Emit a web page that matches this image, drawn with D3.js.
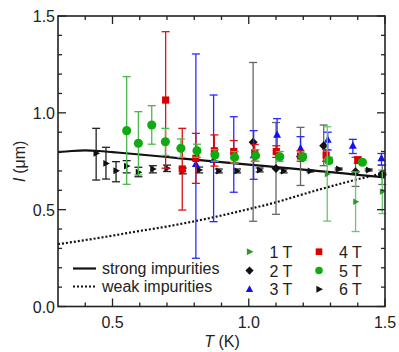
<!DOCTYPE html>
<html>
<head>
<meta charset="utf-8">
<script src="https://cdn.jsdelivr.net/npm/d3@7"></script>
<style>
  body { margin: 0; background: #fff; }
  svg { font-family: "Liberation Sans", Arial, sans-serif; }
</style>
</head>
<body>
<script>
// rows: [T, l, bar low, bar high]
var s1T = [[1.288, 0.684, 0.441, 0.928], [1.392, 0.541, 0.387, 0.695], [1.49, 0.593, 0.48, 0.705]]
var s2T = [[1.016, 0.848, 0.44, 1.26], [1.10, 0.713, 0.476, 0.95], [1.19, 0.775, 0.625, 0.925],
  [1.275, 0.83, 0.727, 0.937], [1.392, 0.696, 0.62, 0.77], [1.49, 0.68, 0.63, 0.73]]
var s3T = [[0.806, 0.735, 0.249, 1.304], [0.871, 0.757, 0.438, 1.092], [0.945, 0.78, 0.59, 0.98],
  [1.018, 0.78, 0.657, 0.908], [1.104, 0.886, 0.80, 0.97], [1.19, 0.817, 0.773, 0.877],
  [1.29, 0.86, 0.808, 0.90], [1.382, 0.83, 0.79, 0.863], [1.487, 0.765, 0.73, 0.79]]
var s4T = [[0.695, 1.066, 0.714, 1.419], [0.756, 0.71, 0.498, 0.92], [0.806, 0.765, 0.636, 0.894],
  [0.874, 0.804, 0.725, 0.886], [0.945, 0.80, 0.743, 0.857], [1.022, 0.794, 0.75, 0.837],
  [1.101, 0.80, 0.77, 0.83], [1.19, 0.777, 0.75, 0.804], [1.284, 0.782, 0.75, 0.81],
  [1.40, 0.756, 0.74, 0.773]]
var s5T = [[0.552, 0.908, 0.631, 1.187], [0.595, 0.843, 0.679, 1.006], [0.644, 0.937, 0.838, 1.037],
  [0.694, 0.851, 0.78, 0.92], [0.751, 0.817, 0.77, 0.865], [0.81, 0.804, 0.77, 0.838],
  [0.876, 0.782, 0.75, 0.81], [0.948, 0.77, 0.74, 0.80], [1.025, 0.779, 0.75, 0.81],
  [1.114, 0.773, 0.75, 0.80], [1.198, 0.773, 0.755, 0.79], [1.294, 0.753, 0.74, 0.77],
  [1.417, 0.745, 0.735, 0.755]]
var s6T = [[0.44, 0.791, 0.653, 0.92], [0.476, 0.739, 0.658, 0.822], [0.513, 0.701, 0.644, 0.748],
  [0.552, 0.725, 0.69, 0.753], [0.595, 0.693, 0.67, 0.719], [0.648, 0.71, 0.69, 0.727],
  [0.70, 0.714, 0.697, 0.73], [0.758, 0.70, 0.685, 0.715], [0.818, 0.705, 0.69, 0.72],
  [0.89, 0.70, 0.69, 0.71], [0.957, 0.70, 0.69, 0.71], [1.04, 0.705, 0.695, 0.715],
  [1.128, 0.70, 0.69, 0.71], [1.226, 0.70, 0.695, 0.705], [1.33, 0.71, 0.705, 0.715],
  [1.44, 0.705, 0.70, 0.71], [1.49, 0.685, 0.68, 0.69]]

var curveT = [0.3, 0.35, 0.4, 0.45, 0.5, 0.6, 0.7, 0.8, 0.9, 1.0, 1.1, 1.2, 1.3, 1.4, 1.5]
var strongL = [0.797, 0.803, 0.806, 0.803, 0.797, 0.785, 0.772, 0.758, 0.745, 0.733, 0.72, 0.707, 0.694, 0.68, 0.667]
var weakL = [0.322, 0.332, 0.343, 0.354, 0.366, 0.39, 0.413, 0.44, 0.47, 0.503, 0.538, 0.58, 0.62, 0.657, 0.69]

var xTicks = [0.5, 1.0, 1.5]
var yTicks = [0.0, 0.5, 1.0, 1.5]

function main() {
  var width = 399, height = 352
  var pl = 58, pr = 385, pt = 16, pb = 306.5

  var svg = d3.select("body").append("svg")
    .attr("width", width).attr("height", height)

  var x = d3.scaleLinear().domain([0.3, 1.5]).range([pl, pr])
  var y = d3.scaleLinear().domain([0, 1.5]).range([pb, pt])

  // marker shapes, centered on 0,0
  function shape(kind, r) {
    if (kind == "square") return "M" + (-r) + "," + (-r) + "h" + 2 * r + "v" + 2 * r + "h" + (-2 * r) + "Z"
    if (kind == "diamond") return "M0," + (-r * 1.25) + "L" + r * 1.25 + ",0L0," + r * 1.25 + "L" + (-r * 1.25) + ",0Z"
    if (kind == "up") return "M0," + (-r * 1.2) + "L" + r * 1.1 + "," + r * 0.8 + "L" + (-r * 1.1) + "," + r * 0.8 + "Z"
    if (kind == "right") return "M" + (-r * 0.8) + "," + (-r * 1.05) + "L" + r * 1.2 + ",0L" + (-r * 0.8) + "," + r * 1.05 + "Z"
    return d3.symbol().type(d3.symbolCircle).size(Math.PI * r * r * 1.3)()
  }

  var plot = svg.append("g")

  // ticks on all four sides, pointing inward
  var minorX = d3.range(4, 16).map(function(d) { return d / 10 })
  var minorY = d3.range(0, 16).map(function(d) { return d / 10 })
  var axes = svg.append("g").attr("stroke", "#222").attr("stroke-width", 1.3)
  minorX.forEach(function(t) {
    var len = xTicks.indexOf(t) >= 0 ? 8 : 4
    axes.append("line").attr("x1", x(t)).attr("x2", x(t)).attr("y1", pb).attr("y2", pb - len)
    axes.append("line").attr("x1", x(t)).attr("x2", x(t)).attr("y1", pt).attr("y2", pt + len)
  })
  minorY.forEach(function(v) {
    var len = (Math.round(v * 10) % 5 == 0) ? 8 : 4
    axes.append("line").attr("y1", y(v)).attr("y2", y(v)).attr("x1", pl).attr("x2", pl + len)
    axes.append("line").attr("y1", y(v)).attr("y2", y(v)).attr("x1", pr).attr("x2", pr - len)
  })

  svg.selectAll(".xl").data(xTicks).enter().append("text")
    .attr("x", function(d) { return x(d) }).attr("y", 328)
    .attr("text-anchor", "middle").attr("font-size", 16).attr("fill", "#222")
    .text(function(d) { return d.toFixed(1) })
  svg.selectAll(".yl").data(yTicks).enter().append("text")
    .attr("x", 55).attr("y", function(d) { return y(d) + 6 })
    .attr("text-anchor", "end").attr("font-size", 16).attr("fill", "#222")
    .text(function(d) { return d.toFixed(1) })

  var xl = svg.append("text").attr("x", 222).attr("y", 347).attr("text-anchor", "middle")
    .attr("font-size", 16).attr("fill", "#222")
  xl.append("tspan").attr("font-style", "italic").text("T")
  xl.append("tspan").text(" (K)")
  var yl = svg.append("text").attr("transform", "translate(25," + (pt + pb) / 2 + ") rotate(-90)")
    .attr("text-anchor", "middle").attr("font-size", 16).attr("fill", "#222")
  yl.append("tspan").attr("font-style", "italic").text("l")
  yl.append("tspan").text("  (μm)")

  // theory curves
  var line = d3.line().curve(d3.curveMonotoneX)
  plot.append("path")
    .attr("d", line(curveT.map(function(t, i) { return [x(t), y(weakL[i])] })))
    .attr("fill", "none").attr("stroke", "#111").attr("stroke-width", 2.2).attr("stroke-dasharray", "2,2")
  plot.append("path")
    .attr("d", line(curveT.map(function(t, i) { return [x(t), y(strongL[i])] })))
    .attr("fill", "none").attr("stroke", "#111").attr("stroke-width", 2.2)

  function drawSeries(rows, kind, r, color, barColor) {
    var g = plot.append("g")
    var bars = g.selectAll(".bar").data(rows).enter().append("g").attr("stroke", barColor).attr("stroke-width", 1.3)
    bars.append("line")
      .attr("x1", function(d) { return x(d[0]) }).attr("x2", function(d) { return x(d[0]) })
      .attr("y1", function(d) { return y(d[2]) }).attr("y2", function(d) { return y(d[3]) })
    bars.append("line")
      .attr("x1", function(d) { return x(d[0]) - 4 }).attr("x2", function(d) { return x(d[0]) + 4 })
      .attr("y1", function(d) { return y(d[2]) }).attr("y2", function(d) { return y(d[2]) })
    bars.append("line")
      .attr("x1", function(d) { return x(d[0]) - 4 }).attr("x2", function(d) { return x(d[0]) + 4 })
      .attr("y1", function(d) { return y(d[3]) }).attr("y2", function(d) { return y(d[3]) })
    g.selectAll(".pt").data(rows).enter().append("path")
      .attr("d", shape(kind, r))
      .attr("transform", function(d) { return "translate(" + x(d[0]) + "," + y(d[1]) + ")" })
      .attr("fill", color)
  }

  drawSeries(s6T, "right", 3.3, "#111", "#222")
  drawSeries(s2T, "diamond", 3.6, "#111", "#666")
  drawSeries(s3T, "up", 3.6, "#1010f0", "#2a2aff")
  drawSeries(s4T, "square", 3.6, "#dd0000", "#dd1111")
  drawSeries(s5T, "circle", 4, "#11aa11", "#4cb84c")
  drawSeries(s1T, "right", 3, "#2e9a2e", "#6cc46c")

  svg.append("rect").attr("x", pl).attr("y", pt).attr("width", pr - pl).attr("height", pb - pt)
    .attr("fill", "none").attr("stroke", "#222").attr("stroke-width", 1.6)

  // legend
  var leg = svg.append("g").attr("font-size", 16).attr("fill", "#222")
  leg.append("line").attr("x1", 73).attr("x2", 96).attr("y1", 268.5).attr("y2", 268.5)
    .attr("stroke", "#111").attr("stroke-width", 2.2)
  leg.append("text").attr("x", 102).attr("y", 274).text("strong impurities")
  leg.append("line").attr("x1", 73).attr("x2", 96).attr("y1", 286.5).attr("y2", 286.5)
    .attr("stroke", "#111").attr("stroke-width", 2.2).attr("stroke-dasharray", "2,2")
  leg.append("text").attr("x", 102).attr("y", 292).text("weak impurities")

  var legNames = ["1 T", "2 T", "3 T", "4 T", "5 T", "6 T"]
  var legKinds = ["right", "diamond", "up", "square", "circle", "right"]
  var legColors = ["#2e9a2e", "#111", "#1010f0", "#dd0000", "#11aa11", "#111"]
  legNames.forEach(function(name, i) {
    var col = Math.floor(i / 3), row = i % 3
    var mx = col == 0 ? 249.5 : 319, ty = 251.7 + row * 18.8
    leg.append("path").attr("d", shape(legKinds[i], 3.3))
      .attr("transform", "translate(" + mx + "," + ty + ")").attr("fill", legColors[i])
    leg.append("text").attr("x", mx + 20).attr("y", ty + 6).text(name)
  })
}

main()
</script>
</body>
</html>
